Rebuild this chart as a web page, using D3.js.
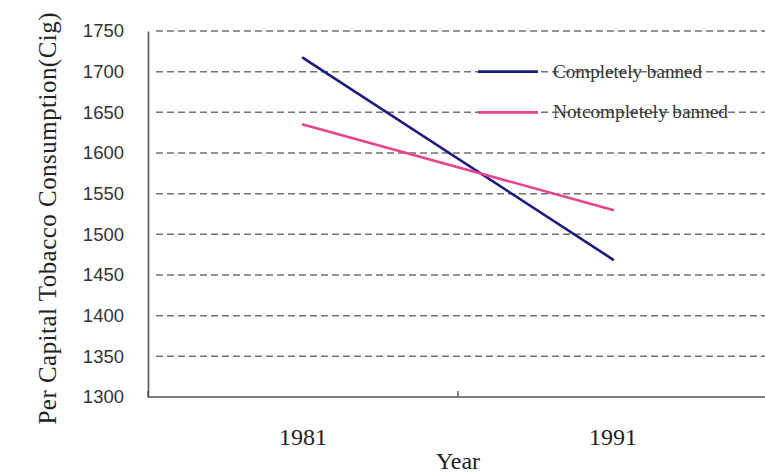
<!DOCTYPE html>
<html>
<head>
<meta charset="utf-8">
<script src="https://cdn.jsdelivr.net/npm/d3@7"></script>
<style>
  html, body { margin: 0; padding: 0; background: #fff; }
  svg { display: block; }
</style>
</head>
<body>
<svg id="chart" width="765" height="473"></svg>
<script>
// Per capita tobacco consumption, 1981 vs 1991
const years = ["1981", "1991"];
const completelyBanned = [1717, 1469];
const notCompletelyBanned = [1635, 1530];
const seriesNames = ["Completely banned", "Notcompletely banned"];
const seriesColors = ["#1b1b7e", "#e8438f"];
const yTicks = [1300, 1350, 1400, 1450, 1500, 1550, 1600, 1650, 1700, 1750];

const svg = d3.select("#chart");
const plotLeft = 148, plotRight = 768, plotTop = 31, plotBottom = 397;

const x = d3.scaleBand().domain(years).range([plotLeft, plotRight]).padding(0);
const y = d3.scaleLinear().domain([1300, 1750]).range([plotBottom, plotTop]);

// dashed horizontal gridlines
svg.append("g")
  .selectAll("line")
  .data(yTicks.filter(d => d > 1300))
  .join("line")
  .attr("x1", plotLeft + 8)
  .attr("x2", 765)
  .attr("y1", d => y(d))
  .attr("y2", d => y(d))
  .attr("stroke", "#707070")
  .attr("stroke-width", 1.5)
  .attr("stroke-dasharray", "7,4");

// y axis
const yAxis = svg.append("g")
  .attr("transform", `translate(${plotLeft},0)`)
  .call(d3.axisLeft(y).tickValues(yTicks).tickSize(0).tickPadding(24).tickFormat(d3.format("d")));
yAxis.select(".domain").attr("stroke", "#555").attr("stroke-width", 1.6);
yAxis.selectAll("text")
  .attr("font-family", "Liberation Sans, Arial, sans-serif")
  .attr("font-size", 18.5)
  .attr("fill", "#333");

// x axis: tick marks sit on the category boundaries
const xAxis = svg.append("g").attr("transform", `translate(0,${plotBottom})`);
xAxis.append("line")
  .attr("x1", plotLeft).attr("x2", plotRight)
  .attr("stroke", "#555").attr("stroke-width", 1.6);
const boundaries = years.map(d => x(d)).concat([x(years[years.length - 1]) + x.bandwidth()]);
xAxis.selectAll("line.tick")
  .data(boundaries)
  .join("line")
  .attr("class", "tick")
  .attr("x1", d => d).attr("x2", d => d)
  .attr("y1", 0).attr("y2", -6)
  .attr("stroke", "#555").attr("stroke-width", 1.4);
xAxis.selectAll("text")
  .data(years)
  .join("text")
  .attr("x", d => x(d) + x.bandwidth() / 2)
  .attr("y", 48)
  .attr("text-anchor", "middle")
  .attr("font-family", "Liberation Serif, Times New Roman, serif")
  .attr("font-size", 24)
  .attr("fill", "#222")
  .text(d => d);

// axis titles
svg.append("text")
  .attr("x", x("1981") + x.bandwidth())
  .attr("y", 469)
  .attr("text-anchor", "middle")
  .attr("font-family", "Liberation Serif, Times New Roman, serif")
  .attr("font-size", 24)
  .attr("fill", "#222")
  .text("Year");

svg.append("text")
  .attr("transform", `translate(56,${(12 + 425) / 2}) rotate(-90)`)
  .attr("text-anchor", "middle")
  .attr("font-family", "Liberation Serif, Times New Roman, serif")
  .attr("font-size", 25)
  .attr("fill", "#222")
  .attr("textLength", 412)
  .attr("lengthAdjust", "spacing")
  .text("Per Capital Tobacco Consumption(Cig)");

// series lines
const line = d3.line()
  .x((d, i) => x(years[i]) + x.bandwidth() / 2)
  .y(d => y(d));

[completelyBanned, notCompletelyBanned].forEach((vals, i) => {
  svg.append("path")
    .datum(vals)
    .attr("d", line)
    .attr("fill", "none")
    .attr("stroke", seriesColors[i])
    .attr("stroke-width", 2.6)
    .attr("stroke-linecap", "round");
});

// legend, laid on the 1700 and 1650 gridlines
const legendRows = [1700, 1650];
const legend = svg.append("g");
seriesNames.forEach((name, i) => {
  const ly = y(legendRows[i]);
  legend.append("line")
    .attr("x1", 478).attr("x2", 538)
    .attr("y1", ly).attr("y2", ly)
    .attr("stroke", seriesColors[i])
    .attr("stroke-width", 2.8);
  legend.append("text")
    .attr("x", 553)
    .attr("y", ly + 6)
    .attr("font-family", "Liberation Serif, Times New Roman, serif")
    .attr("font-size", 18)
    .attr("fill", "#333")
    .attr("textLength", i === 0 ? 149 : 175)
    .attr("lengthAdjust", "spacingAndGlyphs")
    .text(name);
});
</script>
</body>
</html>
